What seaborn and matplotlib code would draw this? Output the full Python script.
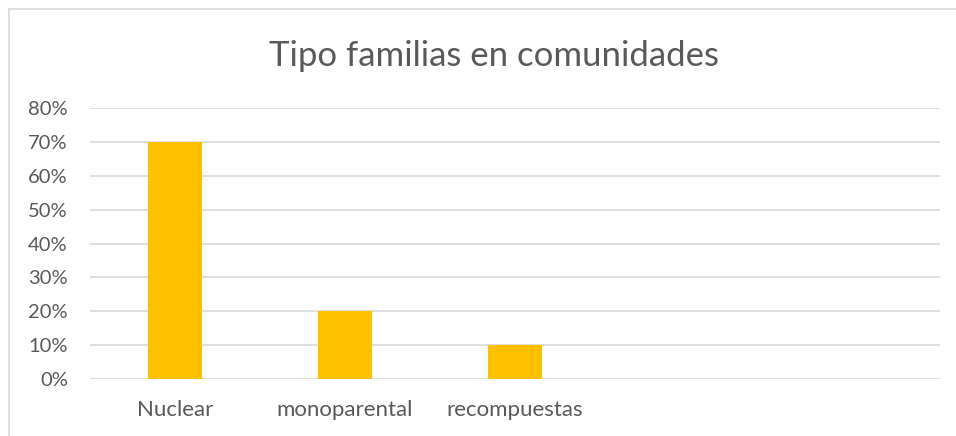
import matplotlib
matplotlib.use("Agg")
import matplotlib.pyplot as plt
import seaborn as sns
import pandas as pd
from matplotlib.ticker import PercentFormatter

categories = ["Nuclear", "monoparental", "recompuestas"]
slots = ["Nuclear", "monoparental", "recompuestas", "", " "]
values = [0.70, 0.20, 0.10]
yticks = [0, 0.1, 0.2, 0.3, 0.4, 0.5, 0.6, 0.7, 0.8]

sns.set_theme(style="white")
plt.rcParams['font.family'] = ['Lato', 'DejaVu Sans']

W, H = 956, 436
fig = plt.figure(figsize=(W / 100, H / 100), dpi=100)
ax = fig.add_axes([90 / W, 1 - 379 / H, 850 / W, (379 - 108) / H])

df = pd.DataFrame({"cat": categories, "val": values})
sns.barplot(data=df, x="cat", y="val", order=slots, color="#FFC000",
            saturation=1, width=0.32, linewidth=0, ax=ax)

ax.set_ylim(0, 0.8)
ax.set_xlim(-0.5, 4.5)
ax.set_yticks(yticks)
ax.yaxis.set_major_formatter(PercentFormatter(1.0, decimals=0))
ax.grid(axis="y", color="#D9D9D9", linewidth=1.2)
ax.set_axisbelow(True)
for s in ax.spines.values():
    s.set_visible(False)
ax.tick_params(axis="y", length=0, pad=16, labelsize=14.5, labelcolor="#595959")
ax.tick_params(axis="x", length=0, pad=15, labelsize=16, labelcolor="#595959")
ax.set_xlabel("")
ax.set_ylabel("")

fig.text(494 / W, 1 - 56 / H, "Tipo familias en comunidades", ha="center", va="center",
         fontsize=25, color="#595959")

# chart frame (clipped on right/bottom)
fig.add_artist(plt.Line2D([9 / W, 9 / W], [0, 1 - 9 / H], color="#D9D9D9", linewidth=1.2))
fig.add_artist(plt.Line2D([9 / W, 1], [1 - 9 / H, 1 - 9 / H], color="#D9D9D9", linewidth=1.2))

fig.savefig("out.png", dpi=100)
